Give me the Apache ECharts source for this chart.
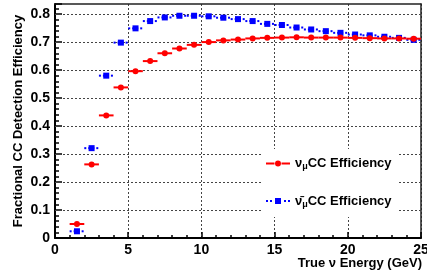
<!DOCTYPE html>
<html>
<head>
<meta charset="utf-8">
<script src="https://cdn.jsdelivr.net/npm/echarts@6/dist/echarts.min.js"></script>
<style>
html,body{margin:0;padding:0;background:#fff;}
#chart{width:427px;height:275px;}
</style>
</head>
<body>
<div id="chart"></div>
<script>
// Bin centres (GeV), bin width 1 GeV
const energyBins = [1.5,2.5,3.5,4.5,5.5,6.5,7.5,8.5,9.5,10.5,11.5,12.5,13.5,14.5,15.5,16.5,17.5,18.5,19.5,20.5,21.5,22.5,23.5,24.5];
const numuEff = [0.050,0.263,0.438,0.538,0.596,0.632,0.660,0.677,0.690,0.700,0.706,0.709,0.713,0.715,0.716,0.717,0.716,0.716,0.716,0.715,0.714,0.713,0.713,0.712];
const numubarEff = [0.024,0.321,0.580,0.698,0.749,0.775,0.788,0.794,0.794,0.792,0.787,0.782,0.775,0.765,0.761,0.752,0.745,0.739,0.733,0.727,0.724,0.719,0.715,0.708];
const numuErr = [0.002,0.002,0.002,0.002,0.002,0.002,0.002,0.002,0.002,0.002,0.002,0.002,0.002,0.002,0.002,0.002,0.002,0.002,0.002,0.002,0.002,0.002,0.002,0.008];
const numubarErr = [0.002,0.002,0.002,0.002,0.002,0.002,0.002,0.002,0.002,0.002,0.002,0.002,0.002,0.002,0.002,0.002,0.002,0.002,0.002,0.002,0.002,0.002,0.002,0.008];
const xTicks = [0,5,10,15,20,25];
const yTicks = [0,0.1,0.2,0.3,0.4,0.5,0.6,0.7,0.8];
const seriesNames = ['\u03bd\u03bcCC Efficiency','\u03bd\u0304\u03bcCC Efficiency'];
const xTitle = 'True \u03bd Energy (GeV)';
const yTitle = 'Fractional CC Detection Efficiency';

const FONT = '"Liberation Sans", Arial, Helvetica, sans-serif';
const chart = echarts.init(document.getElementById('chart'), null, {renderer:'canvas'});

function makeData(vals, errs){
  return energyBins.map((x,i)=>[x, vals[i], errs[i]]);
}
function renderer(color, dash, shape){
  return function(params, api){
    const x = api.value(0), y = api.value(1), e = api.value(2);
    const p0 = api.coord([x-0.5, y]);
    const p1 = api.coord([x+0.5, y]);
    const c = api.coord([x, y]);
    const pt = api.coord([x, y+e]);
    const pb = api.coord([x, y-e]);
    const children = [
      {type:'line', shape:{x1:p0[0],y1:p0[1],x2:p1[0],y2:p1[1]}, style:{stroke:color,lineWidth:2,lineDash:dash}},
      {type:'line', shape:{x1:pt[0],y1:pt[1],x2:pb[0],y2:pb[1]}, style:{stroke:color,lineWidth:2,lineDash:dash}}
    ];
    if(shape==='circle'){
      children.push({type:'circle', shape:{cx:c[0],cy:c[1],r:3}, style:{fill:color}});
    } else {
      children.push({type:'rect', shape:{x:c[0]-3,y:c[1]-3,width:6,height:6}, style:{fill:color}});
    }
    return {type:'group', children};
  };
}
// horizontal dotted grid lines at the y ticks (data: [xStart, yTick])
function hGridRenderer(params, api){
  const v = api.value(1);
  const a = api.coord([xTicks[0], v]);
  const b = api.coord([xTicks[xTicks.length-1], v]);
  const yy = Math.round(a[1]) + 0.5;
  return {type:'line', silent:true, shape:{x1:a[0],y1:yy,x2:b[0],y2:yy},
          style:{stroke:'#444',lineWidth:1,lineDash:[2,2]}};
}

const richLabel = {
  n:{fontSize:13,fontWeight:'bold',fontFamily:FONT,color:'#000',lineHeight:16},
  s:{fontSize:9,fontWeight:'bold',fontFamily:FONT,color:'#000',lineHeight:8,verticalAlign:'bottom'},
  t:{fontSize:13,fontWeight:'bold',fontFamily:FONT,color:'#000',lineHeight:16}
};

const frameAxis = {
  axisLine:{show:true,onZero:false,lineStyle:{color:'#222',width:1.5}},
  axisTick:{show:false},axisLabel:{show:false},splitLine:{show:false}
};

const option = {
  animation:false,
  backgroundColor:'#fff',
  title:{text:xTitle,right:5,top:257,padding:0,
    textStyle:{fontSize:13,fontWeight:'bold',fontFamily:FONT,color:'#000'}},
  grid:{left:55,right:6,top:4,bottom:37,containLabel:false,outerBoundsMode:'none'},
  xAxis:[{
    type:'value',min:xTicks[0],max:xTicks[xTicks.length-1],interval:5,
    axisLine:{onZero:false,lineStyle:{color:'#000',width:2}},
    axisTick:{inside:true,length:6,lineStyle:{color:'#000',width:1.5}},
    minorTick:{show:true,splitNumber:5,length:3,lineStyle:{color:'#000',width:1.5}},
    axisLabel:{fontSize:14,fontWeight:'bold',fontFamily:FONT,color:'#000',margin:5},
    splitLine:{show:true,lineStyle:{color:'#444',width:1,type:[2,2]}}
  },Object.assign({type:'value',position:'top',min:xTicks[0],max:xTicks[xTicks.length-1],interval:5},frameAxis)],
  yAxis:[{
    type:'value',min:0,max:0.836,interval:0.1,
    name:yTitle,nameLocation:'middle',nameGap:30,nameMoveOverlap:false,
    nameTextStyle:{fontSize:13,fontWeight:'bold',fontFamily:FONT,color:'#000'},
    axisLine:{onZero:false,lineStyle:{color:'#000',width:2}},
    axisTick:{inside:true,length:7,lineStyle:{color:'#000',width:1.5}},
    minorTick:{show:true,splitNumber:5,length:4,lineStyle:{color:'#000',width:1.5}},
    axisLabel:{fontSize:14,fontWeight:'bold',fontFamily:FONT,color:'#000',margin:5,
      formatter:function(v){
        const k = Math.round(v*10);
        if(Math.abs(v*10-k)>1e-6) return '';
        return k===0 ? '0' : (k/10).toFixed(1);
      }},
    splitLine:{show:false}
  },Object.assign({type:'value',position:'right',min:0,max:0.836,interval:0.1},frameAxis)],
  legend:{
    orient:'vertical',left:262,top:149,
    backgroundColor:'#fff',padding:[8,6,8,4],itemGap:23,
    itemWidth:24,itemHeight:8,
    data:[
      {name:seriesNames[0],icon:'path://M0,3h8.5v2h-8.5z M15.5,3h8.5v2h-8.5z M9,4a3,3 0 1,0 6,0a3,3 0 1,0 -6,0z'},
      {name:seriesNames[1],icon:'path://M0,3h2v2h-2z M4,3h2v2h-2z M9,1h6v6h-6z M18,3h2v2h-2z M22,3h2v2h-2z'}
    ],
    formatter:function(name){
      if(name===seriesNames[0]) return '{n|\u03bd}{s|\u03bc}{t|CC Efficiency}';
      return '{n|\u03bd\u0304}{s|\u03bc}{t|CC Efficiency}';
    },
    textStyle:{rich:richLabel}
  },
  series:[
    {name:'hgrid',type:'custom',silent:true,renderItem:hGridRenderer,clip:false,
     data:yTicks.filter(v=>v>0).map(v=>[xTicks[0], v]),z:1},
    {name:seriesNames[0],type:'custom',color:'#ff0000',itemStyle:{color:'#ff0000'},
     renderItem:renderer('#ff0000',null,'circle'),data:makeData(numuEff,numuErr),z:3},
    {name:seriesNames[1],type:'custom',color:'#0000ff',itemStyle:{color:'#0000ff'},
     renderItem:renderer('#0000ff',[2,2],'square'),data:makeData(numubarEff,numubarErr),z:2}
  ]
};
chart.setOption(option);
</script>
</body>
</html>
